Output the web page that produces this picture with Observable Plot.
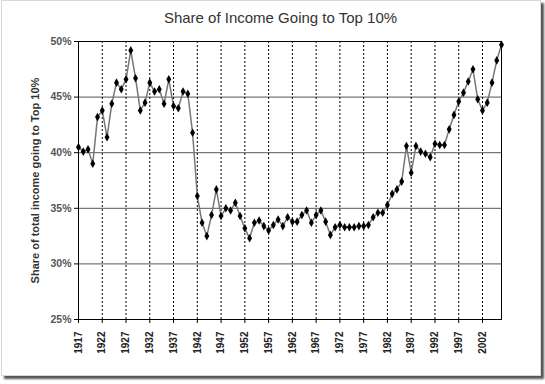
<!DOCTYPE html>
<html>
<head>
<meta charset="utf-8">
<script src="https://cdn.jsdelivr.net/npm/d3@7"></script>
<script src="https://cdn.jsdelivr.net/npm/@observablehq/plot@0.6"></script>
<style>
  html, body { margin: 0; padding: 0; background: #fff; }
  #frame {
    position: absolute; left: 1px; top: 0px; width: 538px; height: 374px;
    border: 1px solid #d8d8d8; box-shadow: 3px 3px 2px #555; background: #fff;
  }
  #wrap { position: absolute; left: 0; top: 0; width: 545px; height: 384px; }
  #title {
    height: 32px; box-sizing: border-box; padding-top: 9px; padding-left: 16px;
    text-align: center; font-family: "Liberation Sans", Arial, sans-serif;
    font-size: 15px; color: #333;
  }
</style>
</head>
<body>
<div id="frame"></div>
<div id="wrap">
  <div id="title">Share of Income Going to Top 10%</div>
  <div id="chart"></div>
</div>
<script>
const years = [1917,1918,1919,1920,1921,1922,1923,1924,1925,1926,1927,1928,1929,1930,1931,1932,1933,1934,1935,1936,1937,1938,1939,1940,1941,1942,1943,1944,1945,1946,1947,1948,1949,1950,1951,1952,1953,1954,1955,1956,1957,1958,1959,1960,1961,1962,1963,1964,1965,1966,1967,1968,1969,1970,1971,1972,1973,1974,1975,1976,1977,1978,1979,1980,1981,1982,1983,1984,1985,1986,1987,1988,1989,1990,1991,1992,1993,1994,1995,1996,1997,1998,1999,2000,2001,2002,2003,2004,2005,2006];
const shares = [40.5,40.1,40.3,39.0,43.2,43.8,41.4,44.4,46.3,45.7,46.6,49.2,46.7,43.8,44.5,46.3,45.5,45.7,44.4,46.6,44.2,44.0,45.5,45.3,41.8,36.1,33.7,32.5,34.4,36.7,34.3,35.0,34.8,35.5,34.3,33.2,32.3,33.7,33.9,33.4,33.0,33.5,34.0,33.4,34.2,33.8,33.8,34.4,34.8,33.7,34.4,34.8,33.8,32.6,33.3,33.5,33.3,33.3,33.3,33.4,33.4,33.5,34.2,34.6,34.6,35.3,36.3,36.7,37.4,40.6,38.2,40.6,40.1,39.9,39.6,40.8,40.7,40.7,42.1,43.4,44.6,45.4,46.4,47.5,44.8,43.8,44.5,46.3,48.3,49.7];
const xTicks = [1917,1922,1927,1932,1937,1942,1947,1952,1957,1962,1967,1972,1977,1982,1987,1992,1997,2002];
const yTicks = [25,30,35,40,45,50];
const yTitle = "Share of total income going to Top 10%";

const data = years.map((y, i) => ({year: y, share: shares[i]}));

const chart = Plot.plot({
  width: 545,
  height: 352,
  marginLeft: 78,
  marginRight: 44,
  marginTop: 9,
  marginBottom: 65,
  style: {fontFamily: "'Liberation Sans', Arial, sans-serif", background: "transparent"},
  x: {domain: [1917, 2006], ticks: xTicks},
  y: {domain: [25, 50], ticks: yTicks},
  marks: [
    Plot.ruleY(yTicks.slice(1, -1), {stroke: "#555", strokeWidth: 1}),
    Plot.ruleX(xTicks.slice(1), {stroke: "#000", strokeWidth: 1, strokeDasharray: "2,2"}),
    Plot.frame({stroke: "#000", strokeWidth: 1}),
    Plot.axisX({ticks: xTicks, tickFormat: d => String(d), tickRotate: -90, tickSize: 4, tickPadding: 8,
      label: null, fontSize: 10, fontWeight: "bold", fill: "#222"}),
    Plot.axisY({ticks: yTicks, tickFormat: d => d + "%", tickSize: 4, tickPadding: 3,
      label: null, fontSize: 10.5, fontWeight: "bold", fill: "#555"}),
    Plot.text([yTitle], {frameAnchor: "left", textAnchor: "middle", text: d => d, rotate: -90, dx: -43,
      fontSize: 11, fontWeight: "bold", fill: "#333"}),
    Plot.line(data, {x: "year", y: "share", stroke: "#777", strokeWidth: 1.5}),
    Plot.dot(data, {x: "year", y: "share", symbol: "diamond", r: 2.6, fill: "#000", stroke: "none"})
  ]
});
document.getElementById("chart").appendChild(chart);
</script>
</body>
</html>
